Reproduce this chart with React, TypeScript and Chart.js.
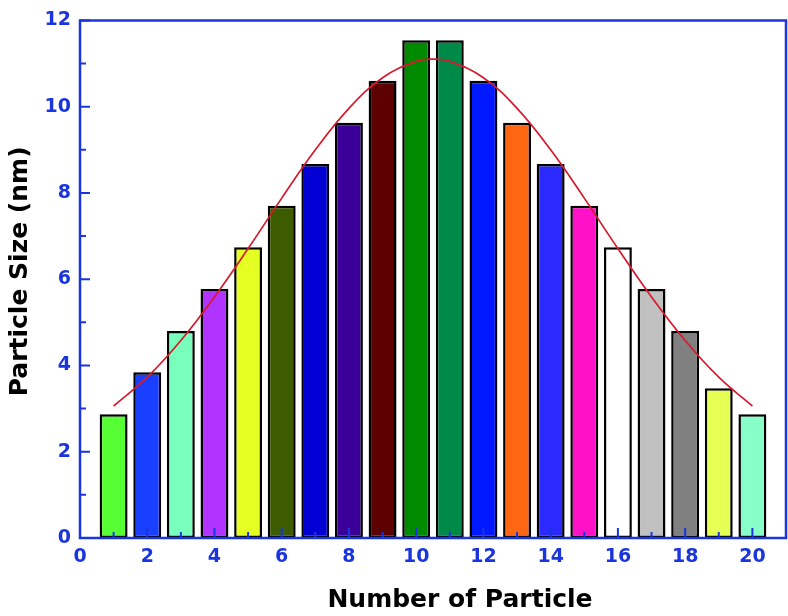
import React, { useEffect, useRef } from "react";
import { Chart, registerables } from "chart.js";

Chart.register(...registerables);

const particles = [1, 2, 3, 4, 5, 6, 7, 8, 9, 10, 11, 12, 13, 14, 15, 16, 17, 18, 19, 20];
const sizes = [2.87, 3.84, 4.8, 5.77, 6.74, 7.7, 8.67, 9.63, 10.6, 11.54, 11.54, 10.6, 9.63, 8.67, 7.7, 6.74, 5.77, 4.8, 3.47, 2.87];
const barColors = [
  "#55ff33", "#1a40ff", "#77ffbb", "#b033ff", "#e5ff22",
  "#3d5c00", "#0000d5", "#3a0099", "#5c0000", "#008a00",
  "#008a4a", "#0019ff", "#ff6611", "#2a2aff", "#ff11c8",
  "#ffffff", "#c0c0c0", "#808080", "#e6ff55", "#88ffc8",
];
const fitX = [1, 2, 3, 4, 5, 6, 7, 8, 9, 10, 10.5, 11, 12, 13, 14, 15, 16, 17, 18, 19, 20];
const fitY = [3.06, 3.73, 4.58, 5.59, 6.71, 7.88, 9.0, 9.96, 10.67, 11.05, 11.1, 11.05, 10.67, 9.96, 9.0, 7.88, 6.71, 5.59, 4.58, 3.73, 3.06];
const xTicks = [0, 2, 4, 6, 8, 10, 12, 14, 16, 18, 20];
const xMinor = [1, 3, 5, 7, 9, 11, 13, 15, 17, 19];
const yTicks = [0, 2, 4, 6, 8, 10, 12];
const yMinor = [1, 3, 5, 7, 9, 11];
const xTitle = "Number of Particle";
const yTitle = "Particle Size (nm)";

const AXIS_BLUE = "#1a35dd";
const FONT = "'DejaVu Sans', Verdana, sans-serif";

const framePlugin = {
  id: "frame",
  afterDraw(chart: any) {
    const { ctx, chartArea: a, scales } = chart;
    const xs = scales.x;
    const ys = scales.y;
    ctx.save();
    ctx.strokeStyle = AXIS_BLUE;
    ctx.lineWidth = 2.5;
    ctx.beginPath();
    ctx.rect(a.left, a.top, a.right - a.left, a.bottom - a.top);
    ctx.stroke();
    ctx.lineWidth = 2;
    ctx.beginPath();
    for (const v of xTicks) {
      const px = xs.getPixelForValue(v);
      ctx.moveTo(px, a.bottom);
      ctx.lineTo(px, a.bottom - 10);
    }
    for (const v of xMinor) {
      const px = xs.getPixelForValue(v);
      ctx.moveTo(px, a.bottom);
      ctx.lineTo(px, a.bottom - 6);
    }
    for (const v of yTicks) {
      const py = ys.getPixelForValue(v);
      ctx.moveTo(a.left, py);
      ctx.lineTo(a.left + 10, py);
    }
    for (const v of yMinor) {
      const py = ys.getPixelForValue(v);
      ctx.moveTo(a.left, py);
      ctx.lineTo(a.left + 6, py);
    }
    ctx.stroke();

    ctx.fillStyle = "#000";
    ctx.font = `bold 25px ${FONT}`;
    ctx.textAlign = "center";
    ctx.textBaseline = "middle";
    ctx.fillText(xTitle, a.left + 380, a.bottom + 62);
    ctx.translate(20, a.top + 251);
    ctx.rotate(-Math.PI / 2);
    ctx.fillText(yTitle, 0, 0);
    ctx.restore();
  },
};

export default function App() {
  const ref = useRef<HTMLCanvasElement | null>(null);
  useEffect(() => {
    if (!ref.current) return;
    const chart = new Chart(ref.current, {
      type: "bar",
      data: {
        datasets: [
          {
            type: "line",
            data: fitX.map((x, i) => ({ x, y: fitY[i] })),
            borderColor: "#d81a2c",
            borderWidth: 1.7,
            pointRadius: 0,
            tension: 0.4,
            fill: false,
            order: 0,
          } as any,
          {
            type: "bar",
            data: particles.map((x, i) => ({ x, y: sizes[i] })),
            backgroundColor: barColors,
            borderColor: "#000",
            borderWidth: 2.5,
            borderSkipped: false,
            categoryPercentage: 0.83,
            barPercentage: 1,
            order: 1,
          } as any,
        ],
      },
      options: {
        animation: false,
        responsive: false,
        layout: { padding: { top: 16, right: 2, left: 0, bottom: 0 } },
        plugins: { legend: { display: false }, tooltip: { enabled: false } },
        scales: {
          x: {
            type: "linear",
            offset: false,
            min: 0,
            max: 21,
            grid: { display: false, drawTicks: false, offset: false },
            border: { display: false },
            afterBuildTicks: (s: any) => {
              s.ticks = xTicks.map((v) => ({ value: v }));
            },
            afterFit: (s: any) => {
              s.height = 78;
            },
            ticks: {
              padding: 8,
              color: AXIS_BLUE,
              font: { family: FONT, weight: "bold", size: 19 },
              maxRotation: 0,
              autoSkip: false,
            },
          },
          y: {
            type: "linear",
            min: 0,
            max: 12,
            grid: { display: false, drawTicks: false },
            border: { display: false },
            afterBuildTicks: (s: any) => {
              s.ticks = yTicks.map((v) => ({ value: v }));
            },
            afterFit: (s: any) => {
              s.width = 80;
            },
            ticks: {
              padding: 9,
              color: AXIS_BLUE,
              font: { family: FONT, weight: "bold", size: 19 },
            },
          },
        },
      },
      plugins: [framePlugin],
    });
    return () => chart.destroy();
  }, []);
  return (
    <div style={{ position: "absolute", left: 0, top: 0, width: 788, height: 616, background: "#fff" }}>
      <canvas ref={ref} width={788} height={616} />
    </div>
  );
}
